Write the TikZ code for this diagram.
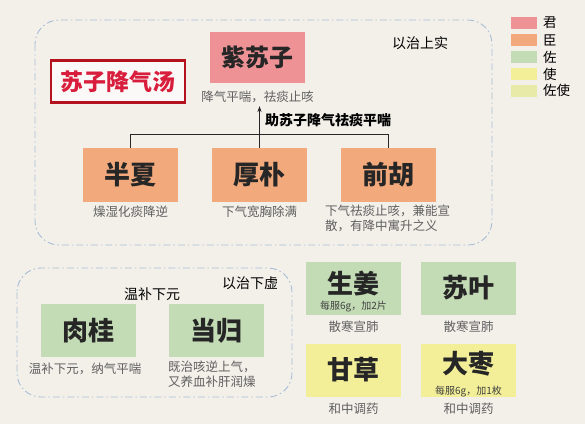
\documentclass[tikz,border=0pt]{standalone}
\usepackage{fontspec}
\setmainfont{Noto Sans CJK SC}
\usetikzlibrary{arrows.meta}
\definecolor{bg}{HTML}{F3F0EA}
\definecolor{jun}{HTML}{EF9295}
\definecolor{chen}{HTML}{F2A97C}
\definecolor{zuo}{HTML}{C3DCB6}
\definecolor{shi}{HTML}{F3EF99}
\definecolor{zuoshi}{HTML}{E8EAA8}
\definecolor{dashc}{HTML}{A9BDD6}
\definecolor{titlec}{HTML}{D81E3C}
\definecolor{titleb}{HTML}{B5121F}
\definecolor{capc}{HTML}{606060}
\tikzset{
  herbfont/.style={font=\fontsize{26}{30}\selectfont\bfseries, text=black!85},
  herb/.style={minimum width=95pt, minimum height=53pt, inner sep=0pt, herbfont},
  captxt/.style={font=\fontsize{12.5}{15}\selectfont, text=capc, inner sep=0pt},
  captxtl/.style={captxt, align=left, anchor=north west},
  note/.style={font=\fontsize{14}{16}\selectfont, text=black, inner sep=0pt},
  smalltxt/.style={font=\fontsize{10}{12}\selectfont, text=black!75, inner sep=0pt},
  grp/.style={draw=dashc, line width=0.9pt, rounded corners=24pt, dash pattern=on 7pt off 3pt on 1.5pt off 3pt},
  sw/.style={minimum width=26pt, minimum height=12pt, inner sep=0pt},
  lg/.style={font=\fontsize{13.5}{15}\selectfont, text=black, anchor=west, inner sep=0pt},
  link/.style={draw=black!85, line width=1pt}
}
\begin{document}
\begin{tikzpicture}[x=1pt,y=-1pt]
\fill[bg] (0,0) rectangle (585,424);
\useasboundingbox (0,0) rectangle (585,424);
% groups
\draw[grp] (35,20) rectangle (492,245);
\draw[grp] (17,268) rectangle (292,397);
% title
\node[draw=titleb, line width=2.5pt, fill=white!60!bg, minimum width=134pt, minimum height=42pt, inner sep=0pt, font=\fontsize{23}{26}\selectfont\bfseries, text=titlec] (title) at (118,81.5) {苏子降气汤};
% top herb
\node[herb, fill=jun, minimum height=51pt, font=\fontsize{24}{28}\selectfont\bfseries] (zsz) at (257.5,57.5) {紫苏子};
\node[captxt] (zszc) at (257.5,97) {降气平喘，祛痰止咳};
\node[note] (shang) at (420,43) {以治上实};
% chen
\node[herb, fill=chen, minimum height=54pt] (bx) at (130.5,175) {半夏};
\node[herb, fill=chen, minimum height=54pt] (hp) at (259.5,175) {厚朴};
\node[herb, fill=chen, minimum height=54pt] (qh) at (388,175) {前胡};
\node[captxt] (bxc) at (130.5,212) {燥湿化痰降逆};
\node[captxt] (hpc) at (259.5,212) {下气宽胸除满};
\node[captxtl] (qhc) at (325,205) {下气祛痰止咳，兼能宣\\散，有降中寓升之义};
% connectors
\coordinate (jn) at (hp.north |- 0,134);
\draw[link] (bx.north) -- (bx.north |- jn) -- (qh.north |- jn) -- (qh.north);
\draw[link] (hp.north) -- (jn);
\draw[link, -{Stealth[length=6pt,width=4pt]}] (jn) -- (jn |- 0,106);
\node[note, anchor=west, font=\fontsize{14}{16}\selectfont\bfseries] (zhu) at (265,120) {助苏子降气祛痰平喘};
% bottom left
\node[note] (xia) at (250,283) {以治下虚};
\node[note] (wb) at (152,294) {温补下元};
\node[herb, fill=zuo] (rg) at (88.5,330.5) {肉桂};
\node[herb, fill=zuo] (dg) at (216.5,330.5) {当归};
\node[captxt] (rgc) at (85,369) {温补下元，纳气平喘};
\node[captxtl] (dgc) at (168,361) {既治咳逆上气，\\又养血补肝润燥};
% right
\node[herb, fill=zuo] (sj) at (353.5,288) {};
\node[herbfont, inner sep=0pt] (sjt) at (353.5,283) {生姜};
\node[smalltxt] (sjs) at (353.5,307) {每服6g，加2片};
\node[herb, fill=zuo] (sy) at (468.5,288) {苏叶};
\node[captxt] (sjc) at (353.5,327) {散寒宣肺};
\node[captxt] (syc) at (468.5,327) {散寒宣肺};
\node[herb, fill=shi] (gc) at (353.5,370) {甘草};
\node[herb, fill=shi] (dz) at (468.5,370) {};
\node[herbfont, inner sep=0pt] (dzt) at (468.5,364) {大枣};
\node[smalltxt] (dzs) at (468.5,392) {每服6g，加1枚};
\node[captxt] (gcc) at (353.5,409) {和中调药};
\node[captxt] (dzc) at (468.5,409) {和中调药};
% legend
\node[sw, fill=jun] (l1) at (524,23) {};
\node[sw, fill=chen] (l2) at (524,40) {};
\node[sw, fill=zuo] (l3) at (524,57) {};
\node[sw, fill=shi] (l4) at (524,74) {};
\node[sw, fill=zuoshi] (l5) at (524,90.5) {};
\node[lg] (t1) at (543,23) {君};
\node[lg] (t2) at (543,40) {臣};
\node[lg] (t3) at (543,57) {佐};
\node[lg] (t4) at (543,74) {使};
\node[lg] (t5) at (543,90.5) {佐使};
\end{tikzpicture}
\end{document}
